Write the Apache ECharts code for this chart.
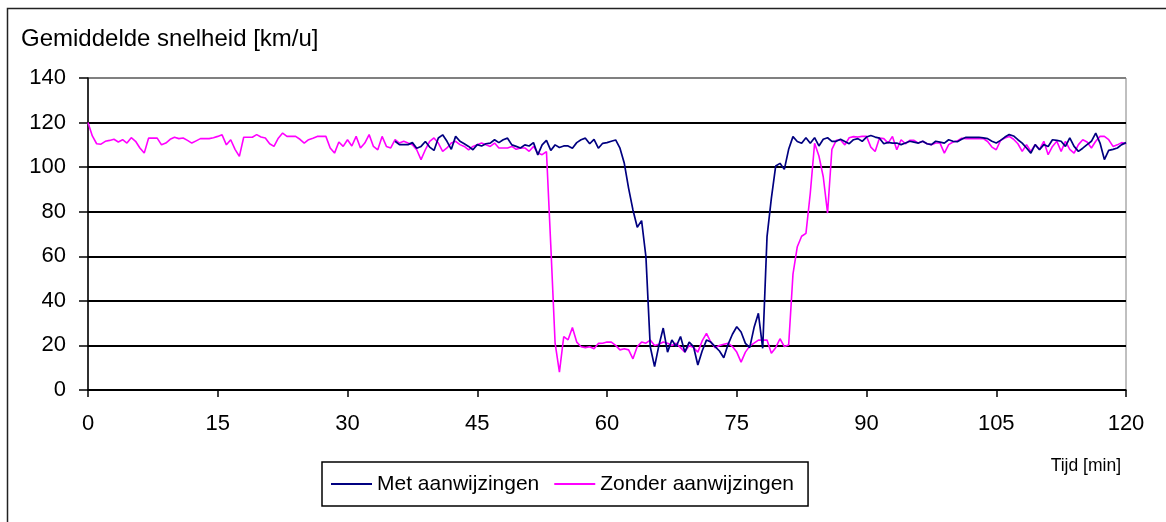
<!DOCTYPE html>
<html>
<head>
<meta charset="utf-8">
<script src="https://cdn.jsdelivr.net/npm/echarts@6/dist/echarts.min.js"></script>
<style>
  html, body { margin: 0; padding: 0; background: #ffffff; }
  #chart { width: 1166px; height: 522px; }
</style>
</head>
<body>
<div id="chart"></div>
<script>
// Time axis: samples every half minute
const stepMin = 0.5;
const zonderStart = 0;     // first sample of "Zonder aanwijzingen" [min]
const metStart = 35.5;     // first sample of "Met aanwijzingen" [min]

const timeTicks = [0, 15, 30, 45, 60, 75, 90, 105, 120];
const speedTicks = [0, 20, 40, 60, 80, 100, 120, 140];

// Gemiddelde snelheid zonder aanwijzingen [km/u], one row per 5 minutes
const zonderValues = [
  120, 114, 110.5, 110.3, 111.6, 112, 112.5, 111.3, 112.3, 110.8,
  113.2, 111.6, 108.6, 106.3, 113, 113, 113, 110, 110.8, 112.5,
  113.4, 112.8, 113.1, 112, 110.8, 111.8, 112.8, 112.8, 112.8, 113.2,
  113.8, 114.5, 110, 112.3, 108, 104.8, 113.4, 113.4, 113.4, 114.6,
  113.5, 113.1, 110.5, 109.3, 113, 115.3, 113.8, 113.8, 113.8, 112.5,
  110.8, 112.3, 113, 113.8, 113.8, 113.8, 108.6, 106.3, 111.3, 109.3,
  112.3, 109.5, 113.8, 108.6, 110.8, 114.6, 109.3, 107.8, 113.8, 109.3,
  108.6, 112.3, 110.8, 111.6, 110.8, 110.1, 107.8, 103.4, 107.8, 111.6,
  113.1, 110.8, 107.1, 108.6, 110.8, 111.6, 110.1, 109.3, 107.8, 109.3,
  110.1, 110.8, 110, 109.3, 110.8, 108.6, 108.6, 108.6, 109.3, 108,
  108.6, 108.6, 107.1, 109.3, 106.3, 105.6, 107, 65, 21, 8,
  24, 22.5, 28, 21.5, 19.4, 19, 19.4, 18.5, 20.9, 21,
  21.5, 21.5, 20, 18, 18.5, 18, 14, 19.5, 21.5, 21,
  22.4, 20, 20.5, 21.5, 21, 20, 21, 19, 17, 20,
  19, 17, 22, 25.4, 21.5, 19, 20, 20.5, 21, 19.5,
  17, 12.5, 17, 19.7, 21, 22.4, 22.4, 22.4, 16.5, 19,
  23, 19.5, 20.2, 52, 64.3, 69, 70.3, 88.3, 110.7, 105,
  95.7, 79.4, 108, 112, 112.2, 110, 113.2, 113.7, 113.5, 113.8,
  113.8, 109, 107, 113.1, 112.8, 110.8, 113.8, 107.8, 112.3, 110.5,
  112, 112, 110.8, 111.6, 110.5, 110.1, 110.8, 110.8, 106.3, 110.1,
  111.3, 111.8, 113, 112.8, 112.8, 112.8, 112.8, 112.8, 111.5, 109,
  107.8, 112, 113.1, 113.8, 112.5, 110.5, 107.1, 110.1, 107.1, 110.1,
  108, 111.6, 105.6, 109.3, 111.6, 107.1, 111.6, 108, 106.3, 110.1,
  112.3, 111.3, 108.6, 111.6, 113.8, 113.8, 112.3, 109.3, 110, 111,
  110.5
];

// Gemiddelde snelheid met aanwijzingen [km/u], from 35.5 min
const metValues = [
  111.6, 110.1, 110.1, 110.1, 111, 108.5, 109.3, 111.5, 109,
  107.5, 113.1, 114.5, 111.6, 108, 113.8, 111.6, 110.5, 109.3, 107.8,
  110.1, 109.5, 110.5, 110.8, 112.3, 111, 112.3, 113, 110, 109.3,
  108.6, 110, 109.5, 111, 105.5, 110, 112, 107.5, 110, 108.8,
  109.5, 109.5, 108.5, 111, 112.3, 113, 110.5, 112.5, 108.5, 110.7,
  111, 111.6, 112.2, 108.5, 101.7, 90.5, 80.8, 73, 76, 59.8,
  19.4, 10.5, 20, 27.8, 17, 22.4, 19.5, 24, 17, 21.5,
  19.5, 11.2, 17.5, 22.4, 21.5, 19.5, 17.5, 14.5, 20.5, 25,
  28.4, 26, 20.9, 19, 28, 34.4, 18.7, 68.8, 86, 100.5,
  101.7, 99, 108, 113.7, 111.5, 110.7, 113.2, 110.7, 113.2, 109.5,
  112.5, 113.2, 111.6, 111.6, 112.5, 111.5, 110.5, 112.3, 112.8, 111.6,
  113.5, 114.2, 113.5, 113, 110.5, 111.1, 110.8, 110.8, 110.1, 110.8,
  111.6, 111.2, 110.8, 111.6, 110.5, 110.1, 111.6, 111.2, 110.8, 112.3,
  111.6, 111.4, 112.5, 113.4, 113.4, 113.4, 113.4, 113.1, 112.8, 111.6,
  110.8, 112, 113.5, 114.6, 114, 112.3, 110.8, 108.6, 106.3, 110.1,
  107.8, 110.1, 109.3, 112.3, 112, 111.6, 109.3, 113.1, 109.3, 107.1,
  108.5, 110.1, 111.6, 115.3, 110.8, 103.4, 107.5, 108, 108.6, 110.1,
  111
];

const seriesNames = ['Met aanwijzingen', 'Zonder aanwijzingen'];
const yTitle = 'Gemiddelde snelheid [km/u]';
const xTitle = 'Tijd [min]';

function toPairs(start, values) {
  return values.map((v, i) => [start + i * stepMin, v]);
}

const FONT = 'Liberation Sans, Arial, sans-serif';
const chart = echarts.init(document.getElementById('chart'), null, { renderer: 'canvas' });

chart.setOption({
  animation: false,
  backgroundColor: '#ffffff',
  textStyle: { fontFamily: FONT, color: '#000' },
  grid: {
    left: 88, right: 40, top: 78, bottom: 132,
    show: true, borderColor: '#808080', borderWidth: 1, backgroundColor: 'transparent'
  },
  xAxis: {
    type: 'value',
    min: timeTicks[0], max: timeTicks[timeTicks.length - 1], interval: 15,
    axisLine: { show: true, onZero: false, lineStyle: { color: '#000', width: 1.5 } },
    axisTick: { show: true, inside: false, length: 7, lineStyle: { color: '#000', width: 1.5 } },
    axisLabel: { margin: 23, fontSize: 22, fontFamily: FONT, color: '#000' },
    splitLine: { show: false }
  },
  yAxis: {
    type: 'value',
    min: speedTicks[0], max: speedTicks[speedTicks.length - 1], interval: 20,
    axisLine: { show: true, lineStyle: { color: '#000', width: 1.5 } },
    axisTick: { show: true, inside: false, length: 9, lineStyle: { color: '#000', width: 1.5 } },
    axisLabel: { margin: 22, fontSize: 22, fontFamily: FONT, color: '#000' },
    splitLine: {
      show: true,
      lineStyle: {
        color: ['#000', '#000', '#000', '#000', '#000', '#000', '#000', '#808080'],
        width: 2
      }
    }
  },
  legend: {
    left: 322, top: 462,
    padding: [11, 14, 11, 9],
    itemWidth: 41, itemHeight: 2, itemGap: 15,
    icon: 'rect',
    borderColor: '#000', borderWidth: 1.5,
    backgroundColor: '#fff',
    textStyle: { fontSize: 21, fontFamily: FONT, color: '#000', lineHeight: 22 },
    data: seriesNames
  },
  graphic: [
    {
      type: 'rect', z: -1, silent: true,
      shape: { x: 7.5, y: 8.5, width: 1300, height: 700 },
      style: { fill: 'none', stroke: '#222', lineWidth: 1.5 }
    },
    {
      type: 'text', left: 21, top: 27,
      style: { text: yTitle, font: '24px ' + FONT, fill: '#000' }
    },
    {
      type: 'text', right: 45, top: 457,
      style: { text: xTitle, font: '17.5px ' + FONT, fill: '#000' }
    }
  ],
  series: [
    {
      name: seriesNames[0], type: 'line', symbol: 'none', z: 3,
      lineStyle: { color: '#000080', width: 1.7 },
      itemStyle: { color: '#000080' },
      data: toPairs(metStart, metValues)
    },
    {
      name: seriesNames[1], type: 'line', symbol: 'none', z: 2,
      lineStyle: { color: '#ff00ff', width: 1.6 },
      itemStyle: { color: '#ff00ff' },
      data: toPairs(zonderStart, zonderValues)
    }
  ]
});
</script>
</body>
</html>
